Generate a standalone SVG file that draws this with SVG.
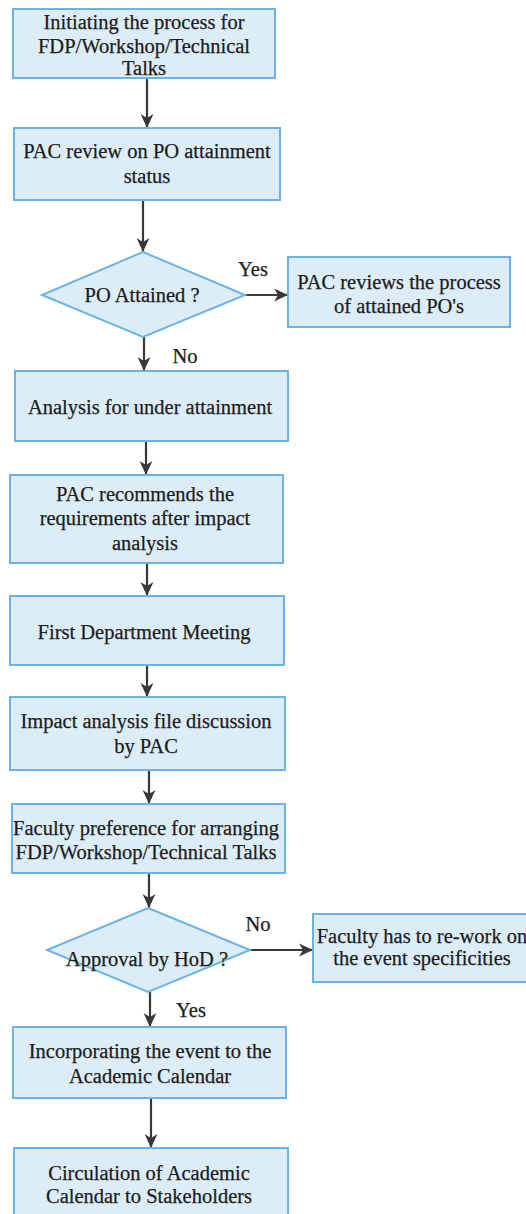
<svg xmlns="http://www.w3.org/2000/svg" width="526" height="1214" viewBox="0 0 526 1214">
<style>
  .box{fill:#dcedf8;stroke:#6cb3e4;stroke-width:2}
  .t{font-size:20.5px;fill:#1c1c1c;text-anchor:middle;stroke:#1c1c1c;stroke-width:0.25}
  .c{stroke:#383838;stroke-width:2.2;fill:none;marker-end:url(#ah)}
</style>
<defs>
  <marker id="ah" viewBox="0 0 12 12" markerUnits="userSpaceOnUse" markerWidth="14" markerHeight="14" refX="12" refY="6" orient="auto">
    <path d="M0,0.5 L12,6 L0,11.5 L3.5,6 z" fill="#383838"/>
  </marker>
</defs>
<rect width="526" height="1214" fill="#ffffff"/>
<g font-family="'Liberation Serif', Tinos, 'Times New Roman', Times, serif">
<g id="connectors">
  <line class="c" x1="147" y1="78" x2="147" y2="128"/>
  <line class="c" x1="143" y1="200" x2="143" y2="252"/>
  <line class="c" x1="245" y1="295" x2="288" y2="295"/>
  <line class="c" x1="144" y1="337" x2="144" y2="371"/>
  <line class="c" x1="146" y1="441" x2="146" y2="475"/>
  <line class="c" x1="147" y1="563" x2="147" y2="596"/>
  <line class="c" x1="147" y1="665" x2="147" y2="697"/>
  <line class="c" x1="149" y1="770" x2="149" y2="804"/>
  <line class="c" x1="149" y1="873" x2="149" y2="908"/>
  <line class="c" x1="250" y1="950" x2="313" y2="950"/>
  <line class="c" x1="150" y1="992" x2="150" y2="1027"/>
  <line class="c" x1="151" y1="1098" x2="151" y2="1148"/>
  <text class="t" x="253" y="276">Yes</text>
  <text class="t" x="185" y="363">No</text>
  <text class="t" x="258" y="931">No</text>
  <text class="t" x="191" y="1017">Yes</text>
</g>
<g id="n1">
  <rect class="box" x="13" y="9" width="262" height="69"/>
  <text class="t" x="144" y="29">Initiating the process for</text>
  <text class="t" x="144" y="53">FDP/Workshop/Technical</text>
  <text class="t" x="144" y="75">Talks</text>
</g>
<g id="n2">
  <rect class="box" x="14" y="128" width="266" height="72"/>
  <text class="t" x="147" y="158">PAC review on PO attainment</text>
  <text class="t" x="147" y="183">status</text>
</g>
<g id="d1">
  <polygon class="box" points="143,252 245,295 143,337 42,295"/>
  <text class="t" x="142" y="302">PO Attained ?</text>
</g>
<g id="n3">
  <rect class="box" x="288" y="257" width="222" height="70"/>
  <text class="t" x="399" y="289">PAC reviews the process</text>
  <text class="t" x="399" y="313">of attained PO's</text>
</g>
<g id="n4">
  <rect class="box" x="15" y="371" width="273" height="70"/>
  <text class="t" x="150" y="414">Analysis for under attainment</text>
</g>
<g id="n5">
  <rect class="box" x="10" y="475" width="273" height="88"/>
  <text class="t" x="145" y="501">PAC recommends the</text>
  <text class="t" x="145" y="525">requirements after impact</text>
  <text class="t" x="145" y="550">analysis</text>
</g>
<g id="n6">
  <rect class="box" x="10" y="596" width="274" height="69"/>
  <text class="t" x="144" y="639">First Department Meeting</text>
</g>
<g id="n7">
  <rect class="box" x="10" y="697" width="275" height="73"/>
  <text class="t" x="146" y="728">Impact analysis file discussion</text>
  <text class="t" x="146" y="753">by PAC</text>
</g>
<g id="n8">
  <rect class="box" x="12" y="804" width="273" height="69"/>
  <text class="t" x="146" y="835">Faculty preference for arranging</text>
  <text class="t" x="146" y="859">FDP/Workshop/Technical Talks</text>
</g>
<g id="d2">
  <polygon class="box" points="148,908 250,950 148,992 47,950"/>
  <text class="t" x="147" y="966">Approval by HoD ?</text>
</g>
<g id="n9">
  <rect class="box" x="313" y="914" width="220" height="68"/>
  <text class="t" x="422" y="943">Faculty has to re-work on</text>
  <text class="t" x="422" y="965">the event specificities</text>
</g>
<g id="n10">
  <rect class="box" x="13" y="1027" width="273" height="71"/>
  <text class="t" x="150" y="1058">Incorporating the event to the</text>
  <text class="t" x="150" y="1083">Academic Calendar</text>
</g>
<g id="n11">
  <rect class="box" x="14" y="1148" width="274" height="80"/>
  <text class="t" x="149" y="1180">Circulation of  Academic</text>
  <text class="t" x="149" y="1203">Calendar to Stakeholders</text>
</g>
</g>
</svg>
